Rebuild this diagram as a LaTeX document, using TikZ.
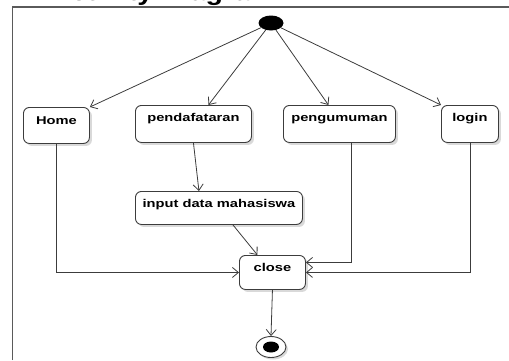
\documentclass[tikz,border=0pt]{standalone}
\usepackage{fontspec}
\setmainfont{Liberation Sans}
\newfontfamily\lblfont[FakeStretch=1.3]{Liberation Sans}
\newfontfamily\titlefont[FakeStretch=1.19]{Liberation Sans}
\usetikzlibrary{arrows.meta,shapes.geometric,shadows,calc}

\definecolor{edge}{HTML}{3C3C3C}
\definecolor{frame}{HTML}{5A5A5A}

\tikzset{
  actbox/.style={draw=edge, line width=0.9pt, rounded corners=6pt, fill=white,
    inner sep=0pt, anchor=north west, font=\lblfont\bfseries\fontsize{11.3}{12}\selectfont,
    drop shadow={shadow xshift=2.5pt, shadow yshift=-2.5pt, fill=black!25, opacity=0.6}},
  flow/.style={draw=edge, line width=0.8pt, -{Straight Barb[length=6pt,width=10pt]}},
}

\begin{document}
\begin{tikzpicture}[x=1pt, y=-1pt]
  \useasboundingbox (0,0) rectangle (509,360);

  % diagram title; only its descenders reach into the page
  \begin{scope}
    \clip (0,0) rectangle (509,6.5);
    \node[anchor=base west, inner sep=0pt, font=\titlefont\bfseries\fontsize{24}{26}\selectfont]
      (title) at (50,0) {Activity Diagram};
  \end{scope}

  % frame
  \draw[frame, line width=1.5pt] (12.5,360) -- (12.5,7) -- (509,7);

  % initial and final nodes
  \node[ellipse, fill=black, minimum width=25pt, minimum height=15pt, inner sep=0pt] (start) at (271,23) {};
  \node[ellipse, draw=edge, line width=0.9pt, fill=white, minimum width=30pt, minimum height=21pt, inner sep=0pt,
        drop shadow={shadow xshift=2pt, shadow yshift=-2pt, fill=black!25, opacity=0.6},
        path picture={\fill[black] (path picture bounding box.center) ellipse (8pt and 5.5pt);}] (final) at (271,347) {};

  % actions
  \node[actbox, minimum width=66pt, text height=17pt, text depth=19pt] (home) at (23,107) {Home};
  \node[actbox, minimum width=116pt, text height=16pt, text depth=21pt] (pend) at (135,105) {pendafataran};
  \node[actbox, minimum width=112pt, text height=16pt, text depth=21pt] (peng) at (283,105) {pengumuman};
  \node[actbox, minimum width=57pt, text height=16pt, text depth=21pt] (login) at (441,105) {login};
  \node[actbox, minimum width=167pt, text height=16pt, text depth=17pt] (input) at (135,191) {input data mahasiswa};
  \node[actbox, minimum width=66pt, text height=16pt, text depth=18pt] (close) at (239,255) {close};

  % flows
  \draw[flow] (start) -- (home.north east);
  \draw[flow] (start) -- ([xshift=15pt]pend.north);
  \draw[flow] (start) -- ([xshift=-11pt]peng.north);
  \draw[flow] (start) -- (login.north west);
  \draw[flow] (pend.south) -- ([xshift=-20pt]input.north);
  \draw[flow] ([xshift=14pt]input.south) -- ([xshift=-15pt]close.north);
  \draw[flow] ([xshift=12pt]peng.south) |- ([yshift=10pt]close.east);
  \draw[flow] (login.south) |- (close.east);
  \draw[flow] (home.south) |- (close.west);
  \draw[flow] (close.south) -- (final.north);
\end{tikzpicture}
\end{document}
